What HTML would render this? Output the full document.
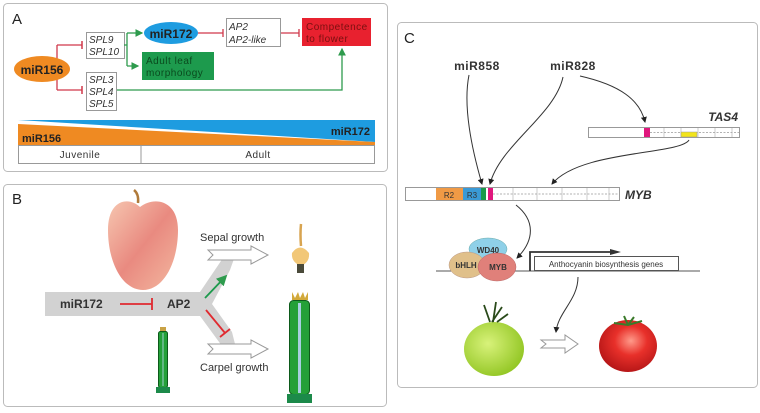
<!DOCTYPE html>
<html><head><meta charset="utf-8"><style>
html,body{margin:0;padding:0;background:#fff;width:760px;height:413px;overflow:hidden}
text{font-family:"Liberation Sans",Arial,sans-serif}
</style></head><body>
<svg width="760" height="413" viewBox="0 0 760 413" xmlns="http://www.w3.org/2000/svg">
<defs>
<marker id="ag" markerWidth="6" markerHeight="6" refX="5" refY="3" orient="auto"><path d="M0,0 L6,3 L0,6z" fill="#2e9b4d"/></marker>
<marker id="ak" markerWidth="6" markerHeight="6" refX="5" refY="3" orient="auto"><path d="M0,0 L6,3 L0,6z" fill="#222"/></marker>
<linearGradient id="ap" x1="0" y1="0" x2="1" y2="1"><stop offset="0" stop-color="#f6c6b0"/><stop offset=".5" stop-color="#e98a80"/><stop offset="1" stop-color="#f3b8a0"/></linearGradient>
<radialGradient id="gt" cx=".4" cy=".4" r=".7"><stop offset="0" stop-color="#d8f27a"/><stop offset="1" stop-color="#8cc21c"/></radialGradient>
<radialGradient id="rt" cx=".55" cy=".4" r=".7"><stop offset="0" stop-color="#ff9a8a"/><stop offset=".4" stop-color="#e8302a"/><stop offset="1" stop-color="#a80f12"/></radialGradient>
</defs>
<rect x="3.5" y="3.5" width="384" height="168" rx="4" fill="none" stroke="#bbb"/>
<rect x="3.5" y="184.5" width="383" height="222" rx="4" fill="none" stroke="#bbb"/>
<rect x="397.5" y="22.5" width="360" height="365" rx="4" fill="none" stroke="#bbb"/>

<text x="12" y="24" font-size="15" fill="#222">A</text>
<path d="M57,45 V90 M57,45 H82 M57,90 H82" stroke="#d0384a" stroke-width="1.3" fill="none"/>
<path d="M82,41 V49 M82,86 V94" stroke="#d0384a" stroke-width="1.5"/>
<ellipse cx="42" cy="69" rx="28" ry="13" fill="#ef8a22"/>
<text x="42" y="74" font-size="12" font-weight="bold" text-anchor="middle" fill="#222">miR156</text>
<rect x="86.5" y="32.5" width="38" height="26" fill="#fff" stroke="#999"/>
<text x="89" y="43" font-size="10" font-style="italic" fill="#333">SPL9</text>
<text x="89" y="55" font-size="10" font-style="italic" fill="#333">SPL10</text>
<rect x="86.5" y="72.5" width="30" height="38" fill="#fff" stroke="#999"/>
<text x="89" y="83" font-size="10" font-style="italic" fill="#333">SPL3</text>
<text x="89" y="95" font-size="10" font-style="italic" fill="#333">SPL4</text>
<text x="89" y="107" font-size="10" font-style="italic" fill="#333">SPL5</text>
<path d="M124,45 H127 M127,33 V66 M127,66 H138" stroke="#2e9b4d" stroke-width="1.3" fill="none" marker-end="url(#ag)"/>
<path d="M127,33 H142" stroke="#2e9b4d" stroke-width="1.3" marker-end="url(#ag)"/>
<ellipse cx="171" cy="33" rx="27" ry="11" fill="#1e9ce0"/>
<text x="171" y="38" font-size="12" font-weight="bold" text-anchor="middle" fill="#222">miR172</text>
<rect x="142" y="52" width="72" height="28" fill="#1d9a4d"/>
<text x="146" y="64" font-size="10" fill="#0a4a1e" letter-spacing=".5">Adult leaf</text>
<text x="146" y="76" font-size="10" fill="#0a4a1e" letter-spacing=".5">morphology</text>
<path d="M198,33 H223 M223,29 V37" stroke="#d0384a" stroke-width="1.3"/>
<rect x="226.5" y="18.5" width="54" height="28" fill="#fff" stroke="#999"/>
<text x="229" y="30" font-size="10" font-style="italic" fill="#333">AP2</text>
<text x="229" y="43" font-size="10" font-style="italic" fill="#333">AP2-like</text>
<path d="M281,33 H299 M299,29 V37" stroke="#d0384a" stroke-width="1.3"/>
<rect x="302" y="18" width="69" height="28" fill="#e8212f"/>
<text x="306" y="30" font-size="10" fill="#7a1010" letter-spacing=".5">Competence</text>
<text x="306" y="42" font-size="10" fill="#7a1010" letter-spacing=".5">to flower</text>
<path d="M117,90 H342 V49" stroke="#2e9b4d" stroke-width="1.3" fill="none" marker-end="url(#ag)"/>
<polygon points="18,120 375,120 375,142" fill="#1e9ce0"/>
<polygon points="18,124 375,142 375,145 18,145" fill="#ef8a22"/>
<text x="22" y="142" font-size="11" font-weight="bold" fill="#222">miR156</text>
<text x="370" y="135" font-size="11" font-weight="bold" fill="#222" text-anchor="end">miR172</text>
<rect x="18.5" y="145.5" width="356" height="18" fill="#fff" stroke="#999"/>
<line x1="141" y1="145" x2="141" y2="164" stroke="#999"/>
<text x="80" y="158" font-size="10" text-anchor="middle" fill="#333" letter-spacing=".5">Juvenile</text>
<text x="258" y="158" font-size="10" text-anchor="middle" fill="#333" letter-spacing=".5">Adult</text>

<text x="12" y="204" font-size="15" fill="#222">B</text>
<path d="M138,203 Q139,194 134,190" stroke="#b07a3a" stroke-width="2.5" fill="none"/>
<path d="M140,207 C128,196 108,200 108,230 C108,262 122,290 143,290 C164,290 178,262 178,230 C178,200 154,196 140,207Z" fill="url(#ap)"/>
<polygon points="45,292 200,292 223,258 235,256 230,270 212,304 232,332 236,348 222,346 200,316 45,316" fill="#d2d2d2"/>
<text x="60" y="308" font-size="12" font-weight="bold" fill="#333">miR172</text>
<path d="M120,304 H152 M152,298 V310" stroke="#e02a30" stroke-width="1.8"/>
<text x="167" y="308" font-size="12" font-weight="bold" fill="#333">AP2</text>
<path d="M205,298 L226,276" stroke="#1d9a4d" stroke-width="1.8" marker-end="url(#ag)"/>
<path d="M206,310 L225,333 M220,337 L230,329" stroke="#e02a30" stroke-width="1.8"/>
<text x="200" y="241" font-size="11" fill="#333">Sepal growth</text>
<polygon points="208,250 251,250 251,246 268,255 251,264 251,260 208,260 213,255" fill="#fff" stroke="#999"/>
<path d="M301,224 Q300,234 301,246" stroke="#d8a450" stroke-width="2.5" fill="none"/>
<path d="M292,253 Q300,242 309,253 Q310,262 301,266 Q291,262 292,253Z" fill="#f2c777"/>
<rect x="297" y="264" width="7" height="9" fill="#4a4a3a"/>
<text x="200" y="371" font-size="11" fill="#333">Carpel growth</text>
<polygon points="208,344 251,344 251,340 268,349 251,358 251,354 208,354 213,349" fill="#fff" stroke="#999"/>
<rect x="160" y="327" width="6" height="5" fill="#c9a246"/>
<rect x="158.5" y="331.5" width="9" height="56" rx="2" fill="#24a038" stroke="#0c5a1a"/>
<line x1="163" y1="333" x2="163" y2="386" stroke="#9fd0d0"/>
<rect x="156" y="387" width="14" height="6" fill="#1c8a4a"/>
<path d="M292,292 L295,298 L298,292 L300,298 L303,292 L305,298 L308,292 V300 H292Z" fill="#d2a93a"/>
<rect x="289.5" y="300.5" width="20" height="94" rx="4" fill="#24a038" stroke="#0c5a1a"/>
<rect x="298" y="303" width="3" height="90" fill="#a8cfe0"/>
<rect x="287" y="394" width="25" height="9" fill="#1c8a4a"/>

<text x="404" y="43" font-size="15" fill="#222">C</text>
<text x="477" y="70" font-size="12" font-weight="bold" text-anchor="middle" fill="#333" letter-spacing=".5">miR858</text>
<text x="573" y="70" font-size="12" font-weight="bold" text-anchor="middle" fill="#333" letter-spacing=".5">miR828</text>
<path d="M469,75 C462,110 475,160 482,184" stroke="#333" stroke-width="1" fill="none" marker-end="url(#ak)"/>
<path d="M563,77 C555,115 500,145 490,184" stroke="#333" stroke-width="1" fill="none" marker-end="url(#ak)"/>
<path d="M580,76 C620,85 640,100 645,122" stroke="#333" stroke-width="1" fill="none" marker-end="url(#ak)"/>
<path d="M689,140 C680,155 580,150 552,184" stroke="#333" stroke-width="1" fill="none" marker-end="url(#ak)"/>
<text x="738" y="121" font-size="12" font-weight="bold" font-style="italic" text-anchor="end" fill="#333">TAS4</text>
<rect x="588.5" y="127.5" width="151" height="10" fill="#fff" stroke="#999"/>
<rect x="644" y="128" width="6" height="9" fill="#e0177d"/>
<path d="M650,132.5 H739" stroke="#999" stroke-dasharray="2,1.5" stroke-width=".8"/>
<path d="M664,128 V137 M681,128 V137 M698,128 V137 M715,128 V137 M732,128 V137" stroke="#aaa" stroke-width=".6"/>
<rect x="681" y="132" width="16" height="5" fill="#f2e41b" stroke="#999" stroke-width=".5"/>
<rect x="405.5" y="187.5" width="214" height="13" fill="#fff" stroke="#999"/>
<rect x="436" y="188" width="27" height="12" fill="#f09a45"/>
<text x="449" y="198" font-size="8" text-anchor="middle" fill="#333">R2</text>
<rect x="463" y="188" width="18" height="12" fill="#3a9ad6"/>
<text x="472" y="198" font-size="8" text-anchor="middle" fill="#333">R3</text>
<rect x="481" y="188" width="5" height="12" fill="#1a9a4a"/>
<rect x="488" y="188" width="5" height="12" fill="#e0177d"/>
<path d="M493,194 H619" stroke="#999" stroke-dasharray="2,1.5" stroke-width=".8"/>
<path d="M513,188 V200 M537,188 V200 M562,188 V200 M587,188 V200 M609,188 V200" stroke="#aaa" stroke-width=".6"/>
<text x="625" y="199" font-size="12" font-weight="bold" font-style="italic" fill="#333">MYB</text>
<path d="M516,205 C535,220 535,240 517,258" stroke="#333" stroke-width="1" fill="none" marker-end="url(#ak)"/>
<line x1="436" y1="271" x2="700" y2="271" stroke="#555" stroke-width="1"/>
<ellipse cx="488" cy="249" rx="19" ry="11" fill="#8fd0e8" stroke="#6aa" stroke-width=".5"/>
<text x="488" y="253" font-size="8" font-weight="bold" text-anchor="middle" fill="#333">WD40</text>
<ellipse cx="467" cy="265" rx="18" ry="13" fill="#e0c08a" stroke="#b98" stroke-width=".5"/>
<text x="466" y="268" font-size="8" font-weight="bold" text-anchor="middle" fill="#333">bHLH</text>
<ellipse cx="497" cy="267" rx="19" ry="14" fill="#e0807a" stroke="#b66" stroke-width=".5"/>
<text x="498" y="270" font-size="8" font-weight="bold" text-anchor="middle" fill="#333">MYB</text>
<path d="M530,271 V252 H612" stroke="#333" stroke-width="1.8" fill="none"/>
<path d="M610,249 L621,252 L610,255z" fill="#333"/>
<rect x="534.5" y="256.5" width="144" height="14" fill="#fff" stroke="#555"/>
<text x="606" y="267" font-size="8" text-anchor="middle" fill="#333">Anthocyanin biosynthesis genes</text>
<path d="M578,277 C578,300 558,312 556,332" stroke="#333" stroke-width="1" fill="none" marker-end="url(#ak)"/>
<ellipse cx="494" cy="349" rx="30" ry="27" fill="url(#gt)"/>
<path d="M490,322 L484,305 M493,322 L496,302 M497,322 L508,314 M492,322 L502,307" stroke="#2a4a1a" stroke-width="1.8" fill="none"/>
<polygon points="541,340 565,340 565,335 578,344 565,353 565,348 541,348 546,344" fill="#fff" stroke="#999"/>
<ellipse cx="628" cy="346" rx="29" ry="26" fill="url(#rt)"/>
<path d="M614,323 L628,325 L642,321 M628,325 L624,316 M628,325 L634,317" stroke="#3a7a2a" stroke-width="2" fill="none"/>
</svg>
</body></html>
